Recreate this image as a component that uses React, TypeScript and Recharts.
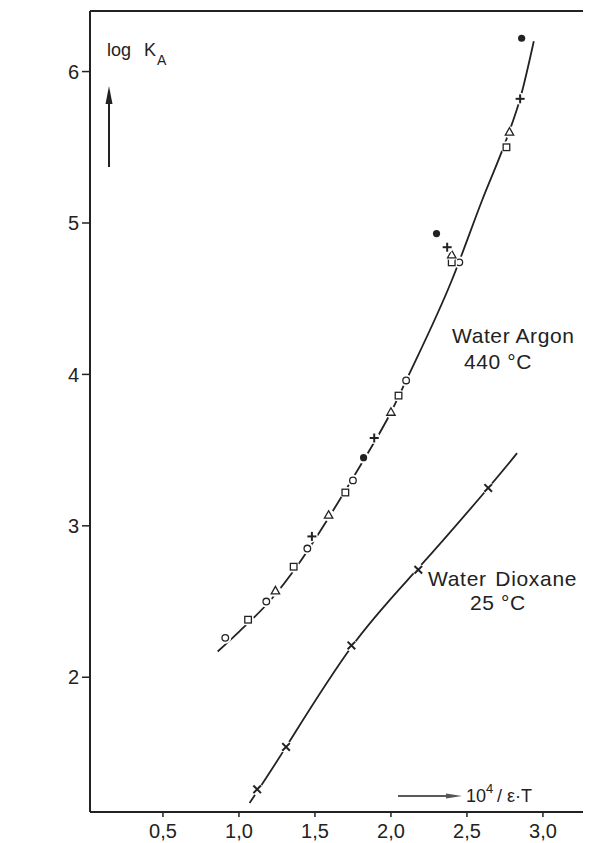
import React from "react";
import {
  ComposedChart,
  Line,
  Scatter,
  XAxis,
  YAxis,
  ReferenceLine,
} from "recharts";

// axis setup
const X_MIN = 0.02;
const X_MAX = 3.29;
const Y_MIN = 1.11;
const Y_MAX = 6.4;
const xTicks = [0.5, 1.0, 1.5, 2.0, 2.5, 3.0];
const yTicks = [2, 3, 4, 5, 6];

// Water / Argon, 440 °C – fitted curve
const argonCurveX = [0.86, 1.0, 1.2, 1.4, 1.6, 1.8, 2.0, 2.1, 2.4, 2.6, 2.77, 2.85, 2.94];
const argonCurveY = [2.17, 2.3, 2.5, 2.76, 3.07, 3.4, 3.75, 3.96, 4.62, 5.15, 5.58, 5.82, 6.2];

// Water / Argon measured points by symbol
const argonCircles = [[0.91, 2.26], [1.18, 2.5], [1.45, 2.85], [1.75, 3.3], [2.1, 3.96], [2.45, 4.74]];
const argonSquares = [[1.06, 2.38], [1.36, 2.73], [1.7, 3.22], [2.05, 3.86], [2.4, 4.74], [2.76, 5.5]];
const argonTriangles = [[1.24, 2.57], [1.59, 3.07], [2.0, 3.75], [2.4, 4.79], [2.78, 5.6]];
const argonPlus = [[1.48, 2.93], [1.89, 3.58], [2.37, 4.84], [2.85, 5.82]];
const argonFilled = [[1.82, 3.45], [2.3, 4.93], [2.86, 6.22]];

// Water / Dioxane, 25 °C
const dioxaneCurveX = [1.07, 1.31, 1.74, 2.18, 2.64, 2.83];
const dioxaneCurveY = [1.17, 1.54, 2.2, 2.72, 3.25, 3.48];
const dioxaneCross = [[1.12, 1.26], [1.31, 1.54], [1.74, 2.21], [2.18, 2.71], [2.64, 3.25]];

const INK = "#222";
const FONT = "'Liberation Sans', Arial, sans-serif";

const toPts = (arr: number[][]) => arr.map(([x, y]) => ({ x, y }));
const zipPts = (xs: number[], ys: number[]) => xs.map((x, i) => ({ x, y: ys[i] }));

type Kind = "circle" | "square" | "triangle" | "plus" | "filled" | "cross";

function Marker({ cx, cy, kind }: { cx?: number; cy?: number; kind: Kind }) {
  if (cx == null || cy == null) return null;
  // white halo breaks the curve around each symbol, like the print
  const halo = <circle cx={cx} cy={cy} r={6} fill="#fff" />;
  let mark: React.ReactNode = null;
  if (kind === "circle") {
    mark = <circle cx={cx} cy={cy} r={3.3} fill="#fff" stroke={INK} strokeWidth={1.3} />;
  } else if (kind === "square") {
    mark = <rect x={cx - 3.3} y={cy - 3.3} width={6.6} height={6.6} fill="#fff" stroke={INK} strokeWidth={1.3} />;
  } else if (kind === "triangle") {
    mark = (
      <polygon
        points={`${cx},${cy - 4.5} ${cx - 4.2},${cy + 3} ${cx + 4.2},${cy + 3}`}
        fill="#fff"
        stroke={INK}
        strokeWidth={1.3}
      />
    );
  } else if (kind === "plus") {
    mark = (
      <g stroke={INK} strokeWidth={2}>
        <line x1={cx - 4.5} y1={cy} x2={cx + 4.5} y2={cy} />
        <line x1={cx} y1={cy - 4.5} x2={cx} y2={cy + 4.5} />
      </g>
    );
  } else if (kind === "filled") {
    mark = <circle cx={cx} cy={cy} r={3.6} fill={INK} />;
  } else {
    mark = (
      <g stroke={INK} strokeWidth={2}>
        <line x1={cx - 3.8} y1={cy - 3.8} x2={cx + 3.8} y2={cy + 3.8} />
        <line x1={cx - 3.8} y1={cy + 3.8} x2={cx + 3.8} y2={cy - 3.8} />
      </g>
    );
  }
  return (
    <g>
      {halo}
      {mark}
    </g>
  );
}

const fmt = (v: number) => v.toFixed(1).replace(".", ",");

export default function App() {
  const series: { kind: Kind; pts: number[][] }[] = [
    { kind: "circle", pts: argonCircles },
    { kind: "square", pts: argonSquares },
    { kind: "triangle", pts: argonTriangles },
    { kind: "plus", pts: argonPlus },
    { kind: "filled", pts: argonFilled },
    { kind: "cross", pts: dioxaneCross },
  ];

  const tickStyle = { fill: INK, fontSize: 20, fontFamily: FONT };

  return (
    <div style={{ position: "relative", width: 583, height: 835, fontFamily: FONT }}>
      <ComposedChart
        width={583}
        height={835}
        margin={{ top: 3, right: 4, bottom: 0, left: 0 }}
      >
        <XAxis
          type="number"
          dataKey="x"
          domain={[X_MIN, X_MAX]}
          ticks={xTicks}
          tickFormatter={fmt}
          allowDataOverflow
          height={31}
          tickSize={5}
          tickMargin={7}
          axisLine={{ stroke: INK, strokeWidth: 2 }}
          tickLine={{ stroke: INK, strokeWidth: 1.5 }}
          tick={tickStyle}
        />
        <YAxis
          type="number"
          dataKey="y"
          domain={[Y_MIN, Y_MAX]}
          ticks={yTicks}
          allowDataOverflow
          width={82}
          tickSize={8}
          tickMargin={3}
          axisLine={{ stroke: INK, strokeWidth: 2 }}
          tickLine={{ stroke: INK, strokeWidth: 1.5 }}
          tick={tickStyle}
        />
        <ReferenceLine x={X_MAX} stroke={INK} strokeWidth={2} />
        <ReferenceLine y={Y_MAX} stroke={INK} strokeWidth={2} />
        <Line
          data={zipPts(argonCurveX, argonCurveY)}
          dataKey="y"
          type="monotone"
          stroke={INK}
          strokeWidth={1.8}
          dot={false}
          activeDot={false}
          isAnimationActive={false}
        />
        <Line
          data={zipPts(dioxaneCurveX, dioxaneCurveY)}
          dataKey="y"
          type="natural"
          stroke={INK}
          strokeWidth={1.8}
          dot={false}
          activeDot={false}
          isAnimationActive={false}
        />
        {series.map((s) => (
          <Scatter
            key={s.kind}
            data={toPts(s.pts)}
            isAnimationActive={false}
            shape={(p: any) => <Marker cx={p.cx} cy={p.cy} kind={s.kind} />}
          />
        ))}
      </ComposedChart>

      <svg
        width={591}
        height={843}
        style={{ position: "absolute", left: -8, top: -8, pointerEvents: "none" }}
        fontFamily={FONT}
        fill={INK}
      >
        <text x={107} y={56} fontSize={18}>log</text>
        <text x={144} y={56} fontSize={18}>K</text>
        <text x={157} y={65} fontSize={14}>A</text>
        <line x1={109} y1={167} x2={109} y2={100} stroke={INK} strokeWidth={2} />
        <polygon points="109,86 105.5,104 112.5,104" fill={INK} />

        <text x={452} y={343} fontSize={21} letterSpacing={0.6}>Water Argon</text>
        <text x={464} y={369} fontSize={21} letterSpacing={0.6}>440 °C</text>

        <text x={428} y={586} fontSize={21} letterSpacing={0.7} wordSpacing={2}>Water Dioxane</text>
        <text x={470} y={610} fontSize={21} letterSpacing={0.6}>25 °C</text>

        <line x1={398} y1={796} x2={450} y2={796} stroke={INK} strokeWidth={1.5} />
        <polygon points="446,793.5 462,796 446,798.5" fill="#555" />
        <text x={466} y={802} fontSize={18}>10</text>
        <text x={486} y={793} fontSize={13}>4</text>
        <text x={497} y={802} fontSize={18}>/ ε·T</text>
      </svg>
    </div>
  );
}
